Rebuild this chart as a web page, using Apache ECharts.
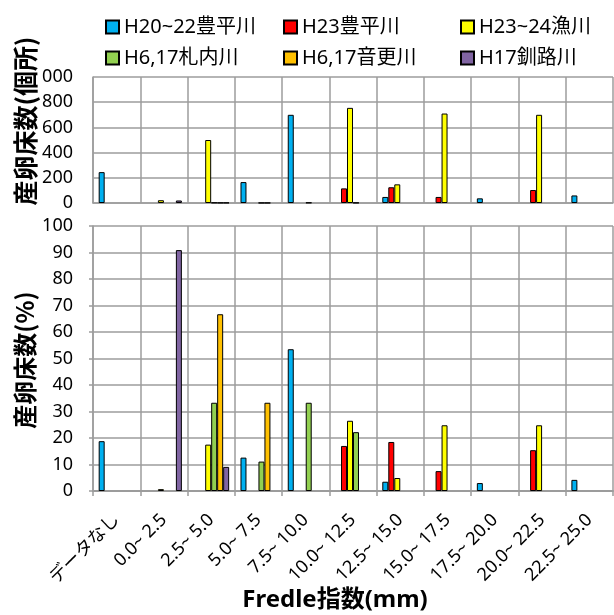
<!DOCTYPE html>
<html>
<head>
<meta charset="utf-8">
<script src="https://cdn.jsdelivr.net/npm/echarts@6/dist/echarts.min.js"></script>
<style>html,body{margin:0;padding:0;background:#fff}#c{width:614px;height:615px}</style>
</head>
<body>
<div id="c"></div>
<script>
const categories = ['データなし','0.0~ 2.5','2.5~ 5.0','5.0~ 7.5','7.5~ 10.0','10.0~ 12.5','12.5~ 15.0','15.0~ 17.5','17.5~ 20.0','20.0~ 22.5','22.5~ 25.0'];
const seriesNames = ['H20~22豊平川','H23豊平川','H23~24漁川','H6,17札内川','H6,17音更川','H17釧路川'];
const seriesColors = ['#00B0F0','#FF0000','#FFFF00','#92D050','#FFC000','#8064A2'];

// 産卵床数(個所)
const countBlue   = [245, null, null, 166, 700, null, 48, null, 37, null, 60];
const countRed    = [null, null, null, null, null, 116, 125, 48, null, 103, null];
const countYellow = [null, 22, 500, null, null, 755, 148, 710, null, 700, null];
const countGreen  = [null, null, 3, 1, 3, 2, null, null, null, null, null];
const countOrange = [null, null, 2, 1, null, null, null, null, null, null, null];
const countPurple = [null, 20, 2, null, null, null, null, null, null, null, null];

// 産卵床数(%)
const pctBlue   = [18.8, null, null, 12.6, 53.5, null, 3.5, null, 3.0, null, 4.2];
const pctRed    = [null, null, null, null, null, 17.0, 18.5, 7.5, null, 15.4, null];
const pctYellow = [null, 0.7, 17.5, null, null, 26.5, 4.9, 24.8, null, 24.8, null];
const pctGreen  = [null, null, 33.3, 11.1, 33.3, 22.2, null, null, null, null, null];
const pctOrange = [null, null, 66.7, 33.3, null, null, null, null, null, null, null];
const pctPurple = [null, 90.9, 9.1, null, null, null, null, null, null, null, null];

const countData = [countBlue, countRed, countYellow, countGreen, countOrange, countPurple];
const pctData = [pctBlue, pctRed, pctYellow, pctGreen, pctOrange, pctPurple];

const topTicks = [0, 200, 400, 600, 800, 1000];
const FONT = "'Noto Sans', 'Noto Sans CJK JP', sans-serif";
const GRID = '#9c9c9c';

const chart = echarts.init(document.getElementById('c'), null, {renderer: 'canvas'});

const legendPos = [[100, 12], [278, 12], [455, 12], [100, 43], [278, 43], [455, 43]];
const legends = seriesNames.map((n, i) => ({
  data: [n], left: legendPos[i][0], top: legendPos[i][1],
  itemWidth: 13, itemHeight: 13, itemGap: 5, icon: 'rect',
  textStyle: {fontSize: 20, color: '#000', fontFamily: FONT},
  selectedMode: false
}));

const series = [];
seriesNames.forEach((n, i) => {
  const st = {color: seriesColors[i], borderColor: '#000', borderWidth: 1};
  series.push({type: 'bar', name: n, xAxisIndex: 0, yAxisIndex: 0, data: countData[i],
    itemStyle: st, barGap: '0%', barCategoryGap: '24%'});
  series.push({type: 'bar', name: n, xAxisIndex: 1, yAxisIndex: 1, data: pctData[i],
    itemStyle: st, barGap: '0%', barCategoryGap: '24%'});
});

chart.setOption({
  animation: false,
  textStyle: {fontFamily: FONT},
  legend: legends,
  grid: [
    {left: 93, right: 1, top: 77, height: 126},
    {left: 93, right: 1, top: 226, height: 265}
  ],
  xAxis: [
    {type: 'category', gridIndex: 0, data: categories,
      axisLabel: {show: false}, axisTick: {show: false},
      axisLine: {lineStyle: {color: GRID, width: 1.5}},
      splitLine: {show: true, interval: 0, lineStyle: {color: GRID, width: 1.5}}},
    {type: 'category', gridIndex: 1, data: categories,
      axisLabel: {interval: 0, rotate: 45, fontSize: 18, color: '#000', fontFamily: FONT, margin: 26},
      axisTick: {show: true, interval: 0, length: 5, lineStyle: {color: GRID, width: 1.5}},
      axisLine: {lineStyle: {color: GRID, width: 2}},
      splitLine: {show: true, interval: 0, lineStyle: {color: GRID, width: 1.5}}}
  ],
  yAxis: [
    {type: 'value', gridIndex: 0, min: 0, max: 1000, interval: 200,
      axisLabel: {fontSize: 18, color: '#000', fontFamily: FONT, margin: 20,
        formatter: v => (v === topTicks[5] ? '000' : String(v))},
      axisLine: {show: true, lineStyle: {color: GRID, width: 1.5}},
      axisTick: {show: false},
      splitLine: {lineStyle: {color: GRID, width: 1.5}}},
    {type: 'value', gridIndex: 1, min: 0, max: 100, interval: 10,
      axisLabel: {fontSize: 18, color: '#000', fontFamily: FONT, margin: 20},
      axisLine: {show: true, lineStyle: {color: GRID, width: 1.5}},
      axisTick: {show: true, length: 4, lineStyle: {color: GRID, width: 1.5}},
      splitLine: {lineStyle: {color: GRID, width: 1.5}}}
  ],
  graphic: [
    {type: 'text', x: 25, y: 121, rotation: Math.PI / 2,
      style: {text: '産卵床数(個所)', font: "bold 25px 'Noto Sans CJK JP', 'Noto Sans', sans-serif", fill: '#000', align: 'center', verticalAlign: 'middle'}},
    {type: 'text', x: 25, y: 360, rotation: Math.PI / 2,
      style: {text: '産卵床数(%)', font: "bold 24px 'Noto Sans CJK JP', 'Noto Sans', sans-serif", fill: '#000', align: 'center', verticalAlign: 'middle'}},
    {type: 'text', x: 335, y: 600,
      style: {text: 'Fredle指数(mm)', font: "bold 24px 'Noto Sans', 'Noto Sans CJK JP', sans-serif", fill: '#000', align: 'center', verticalAlign: 'middle'}}
  ],
  series: series
});
</script>
</body>
</html>
